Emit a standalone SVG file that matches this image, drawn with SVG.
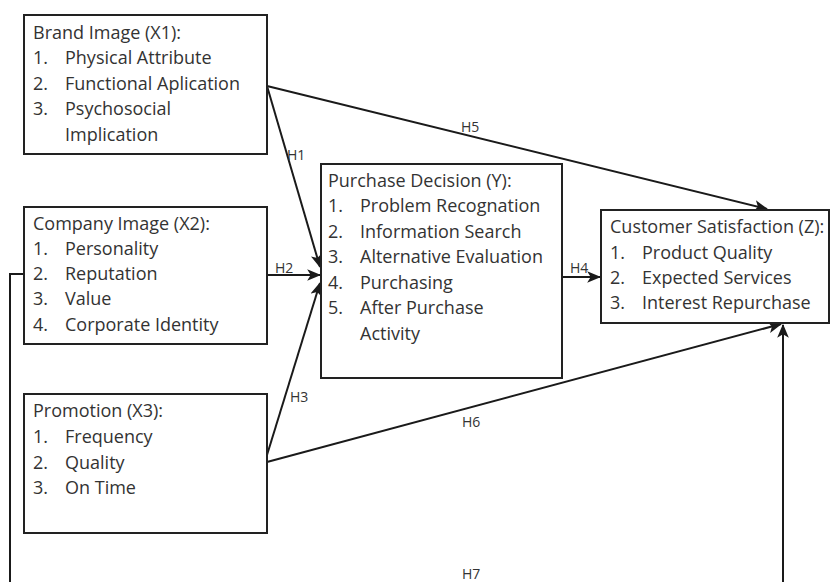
<svg xmlns="http://www.w3.org/2000/svg" width="832" height="582" viewBox="0 0 832 582">
<style>
.box{fill:#fff;stroke:#222;stroke-width:2}
.t{font-family:"Open Sans","Liberation Sans",sans-serif;font-size:18px;fill:#333}
.h{font-family:"Open Sans","Liberation Sans",sans-serif;font-size:14px;fill:#333}
.c{fill:none;stroke:#1a1a1a;stroke-width:2}
.ca{fill:none;stroke:#1a1a1a;stroke-width:2;marker-end:url(#arr)}
</style>
<defs>
<marker id="arr" viewBox="0 0 12 10" refX="11" refY="5" markerWidth="7" markerHeight="6" markerUnits="strokeWidth" orient="auto">
<path d="M0,0 L12,5 L0,10 L3,5 Z" fill="#1a1a1a"/>
</marker>
</defs>
<rect width="832" height="582" fill="#fff"/>
<g id="connectors">
<line class="ca" x1="267" y1="86" x2="320" y2="267"/>
<line class="ca" x1="267" y1="275" x2="320" y2="275"/>
<line class="ca" x1="267" y1="455" x2="320" y2="283"/>
<line class="ca" x1="562" y1="277" x2="600" y2="277"/>
<line class="ca" x1="267" y1="86" x2="767" y2="209"/>
<line class="ca" x1="267" y1="462" x2="781" y2="324"/>
<polyline class="c" points="24,274 10,274 10,590"/>
<line class="ca" x1="783" y1="590" x2="783" y2="325"/>
<text class="h" x="287" y="160">H1</text>
<text class="h" x="275" y="273">H2</text>
<text class="h" x="290" y="402">H3</text>
<text class="h" x="570" y="273">H4</text>
<text class="h" x="461" y="132">H5</text>
<text class="h" x="462" y="427">H6</text>
<text class="h" x="462" y="579">H7</text>
</g>
<g id="brand-image">
<rect class="box" x="24" y="15" width="243" height="139"/>
<text class="t" x="33" y="39">Brand Image (X1):</text>
<text class="t" x="33" y="64">1.</text><text class="t" x="65" y="64">Physical Attribute</text>
<text class="t" x="33" y="90">2.</text><text class="t" x="65" y="90">Functional Aplication</text>
<text class="t" x="33" y="115">3.</text><text class="t" x="65" y="115">Psychosocial</text>
<text class="t" x="65" y="141">Implication</text>
</g>
<g id="company-image">
<rect class="box" x="24" y="207" width="243" height="137"/>
<text class="t" x="33" y="230">Company Image (X2):</text>
<text class="t" x="33" y="255">1.</text><text class="t" x="65" y="255">Personality</text>
<text class="t" x="33" y="280">2.</text><text class="t" x="65" y="280">Reputation</text>
<text class="t" x="33" y="305">3.</text><text class="t" x="65" y="305">Value</text>
<text class="t" x="33" y="331">4.</text><text class="t" x="65" y="331">Corporate Identity</text>
</g>
<g id="promotion">
<rect class="box" x="24" y="394" width="243" height="139"/>
<text class="t" x="33" y="417">Promotion (X3):</text>
<text class="t" x="33" y="443">1.</text><text class="t" x="65" y="443">Frequency</text>
<text class="t" x="33" y="469">2.</text><text class="t" x="65" y="469">Quality</text>
<text class="t" x="33" y="494">3.</text><text class="t" x="65" y="494">On Time</text>
</g>
<g id="purchase-decision">
<rect class="box" x="321" y="164" width="241" height="214"/>
<text class="t" x="328" y="187">Purchase Decision (Y):</text>
<text class="t" x="328" y="212">1.</text><text class="t" x="360" y="212">Problem Recognation</text>
<text class="t" x="328" y="238">2.</text><text class="t" x="360" y="238">Information Search</text>
<text class="t" x="328" y="263">3.</text><text class="t" x="360" y="263">Alternative Evaluation</text>
<text class="t" x="328" y="289">4.</text><text class="t" x="360" y="289">Purchasing</text>
<text class="t" x="328" y="314">5.</text><text class="t" x="360" y="314">After Purchase</text>
<text class="t" x="360" y="340">Activity</text>
</g>
<g id="customer-satisfaction">
<rect class="box" x="601" y="210" width="228" height="113"/>
<text class="t" x="610" y="233">Customer Satisfaction (Z):</text>
<text class="t" x="610" y="259">1.</text><text class="t" x="642" y="259">Product Quality</text>
<text class="t" x="610" y="284">2.</text><text class="t" x="642" y="284">Expected Services</text>
<text class="t" x="610" y="309">3.</text><text class="t" x="642" y="309">Interest Repurchase</text>
</g>
</svg>
